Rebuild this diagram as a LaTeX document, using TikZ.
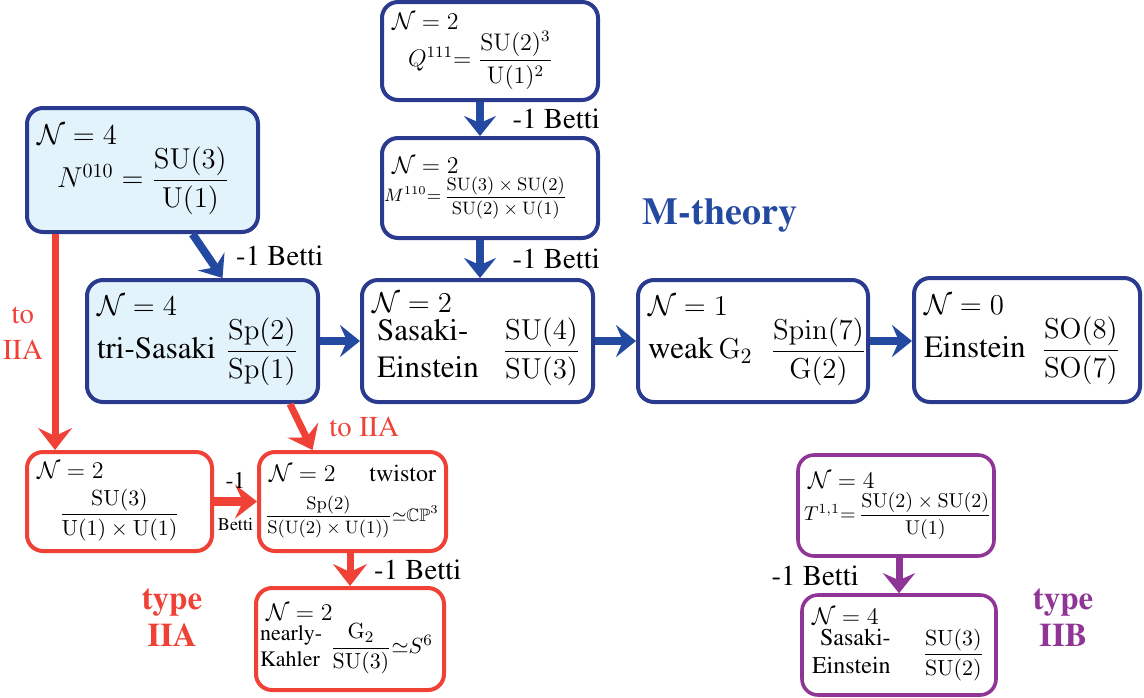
\documentclass[tikz,border=0pt]{standalone}
\usepackage{amsmath,amssymb}
\usepackage[T1]{fontenc}
\renewcommand{\rmdefault}{ptm}
\usetikzlibrary{arrows.meta,positioning,calc}

\definecolor{mblue}{HTML}{293A8F}
\definecolor{ablue}{HTML}{2449A0}
\definecolor{lblue}{HTML}{E3F3FB}
\definecolor{tred}{HTML}{EF4136}
\definecolor{tpurple}{HTML}{8E3596}

\newcommand{\NN}[1]{$\mathcal{N}=#1$}
\newcommand{\bigfr}[2]{{\fontsize{13.5}{16}\selectfont$\dfrac{#1}{#2}$}}

\begin{document}
\begin{tikzpicture}[
    x=0.5pt, y=-0.5pt,
    geom/.style={rectangle, rounded corners=8pt, line width=2pt, align=left, inner xsep=5pt, inner ysep=0pt},
    mbox/.style={geom, draw=mblue, font=\fontsize{15.5}{18.5}\selectfont},
    mfill/.style={mbox, fill=lblue},
    abox/.style={geom, draw=tred, font=\large},
    bbox/.style={geom, draw=tpurple, line width=1.8pt, font=\large},
    barr/.style={-{Stealth[length=10pt, width=16pt, inset=3.5pt]}, line width=4pt, ablue},
    aarr/.style={-{Stealth[length=11pt, width=17pt, inset=4pt]}, line width=3.5pt, tred},
    parr/.style={-{Stealth[length=10pt, width=16pt, inset=3.5pt]}, line width=3.5pt, tpurple},
    lab/.style={font=\Large, text=black},
    alab/.style={font=\Large, text=tred},
    title/.style={font=\bfseries\fontsize{19}{22}\selectfont},
    typ/.style={font=\bfseries\fontsize{16.5}{18.5}\selectfont, align=center}
]
    \useasboundingbox (0,0) rectangle (1144,697);

    \node[mbox, text width=98pt, minimum height=49pt, font=\large] (q) at (490,51)
        {\NN{2}\\\hspace*{8pt}$Q^{111}{=}\;\dfrac{\mathrm{SU}(2)^3}{\mathrm{U}(1)^2}$};
    \node[mbox, text width=98pt, minimum height=50pt, font=\large] (m) at (490,188)
        {\NN{2}\\\hspace*{-4pt}\mbox{\small$M^{110}{=}\,\dfrac{\mathrm{SU}(3)\times\mathrm{SU}(2)}{\mathrm{SU}(2)\times\mathrm{U}(1)}$}};
    \node[mfill, text width=105.5pt, minimum height=62pt] (n) at (142.5,170)
        {\NN{4}\\\hspace*{10pt}\mbox{\fontsize{14}{17}\selectfont$N^{010}=\dfrac{\mathrm{SU}(3)}{\mathrm{U}(1)}$}};
    \node[mfill, text width=105.5pt, minimum height=61pt] (tri) at (202.5,341)
        {\NN{4}\\\mbox{tri-Sasaki\hspace{5pt}\bigfr{\mathrm{Sp}(2)}{\mathrm{Sp}(1)}}};
    \node[mbox, text width=105.5pt, minimum height=61pt] (se) at (477.5,341)
        {\NN{2}\\\mbox{\,\begin{tabular}{@{}l@{}}Sasaki-\\Einstein\end{tabular}\hspace{12pt}\bigfr{\mathrm{SU}(4)}{\mathrm{SU}(3)}}};
    \node[mbox, text width=105pt, minimum height=61pt] (wg) at (753,341)
        {\NN{1}\\\mbox{weak\,$\mathrm{G}_2$\hspace{9pt}\bigfr{\mathrm{Spin}(7)}{\mathrm{G}(2)}}};
    \node[mbox, text width=103pt, minimum height=62pt] (ein) at (1027,340)
        {\NN{0}\\\mbox{Einstein\hspace{8pt}\bigfr{\mathrm{SO}(8)}{\mathrm{SO}(7)}}};

    \node[abox, text width=82.5pt, minimum height=49.5pt] (ra) at (119.5,501.5)
        {\NN{2}\\[4pt]\hspace*{\fill}{\fontsize{11}{13}\selectfont$\dfrac{\mathrm{SU}(3)}{\mathrm{U}(1)\times\mathrm{U}(1)}$}\hspace*{\fill}\null};
    \node[abox, text width=83.5pt, minimum height=49.5pt] (tw) at (352.5,501.5)
        {\NN{2}\hspace*{\fill}twistor\\[6pt]\hspace*{-2pt}\mbox{\small$\dfrac{\mathrm{Sp}(2)}{\mathrm{S}(\mathrm{U}(2)\times\mathrm{U}(1))}{\simeq}\mathbb{CP}^3$}};
    \node[abox, text width=84pt, minimum height=51pt] (nk) at (350,639)
        {\NN{2}\\\hspace*{-3pt}\mbox{\fontsize{11}{13}\selectfont\begin{tabular}{@{}l@{}}nearly-\\Kahler\end{tabular}\ $\dfrac{\mathrm{G}_2}{\mathrm{SU}(3)}{\simeq}S^6$}};

    \node[bbox, text width=88pt, minimum height=50.5pt] (tt) at (896,505.5)
        {\NN{4}\\[1pt]\hspace*{-2pt}\mbox{\normalsize$T^{1,1}{=}\,\dfrac{\mathrm{SU}(2)\times\mathrm{SU}(2)}{\mathrm{U}(1)}$}};
    \node[bbox, text width=87pt, minimum height=50pt] (sb) at (899,645)
        {\NN{4}\\\mbox{\begin{tabular}{@{}l@{}}\ Sasaki-\\Einstein\end{tabular}\hspace{16pt}{\fontsize{11}{13}\selectfont$\dfrac{\mathrm{SU}(3)}{\mathrm{SU}(2)}$}}};

    \node[title, text=ablue] (mth) at (720,215) {M-theory};
    \node[typ, text=tred] (tIIA) at (172,617) {type\\IIA};
    \node[typ, text=tpurple] (tIIB) at (1063,617) {type\\IIB};

    \draw[barr] ([xshift=-5pt]q.south) -- node[lab, right=11pt] (bq) {-1 Betti} ([xshift=-5pt]q.south |- m.north);
    \draw[barr] ([xshift=-5pt]m.south) -- node[lab, right=11pt] (bm) {-1 Betti} ([xshift=-5pt]m.south |- se.north);
    \draw[barr] ([xshift=25pt]n.south) -- node[lab, right=9pt] (bn) {-1 Betti} ([xshift=10pt]tri.north);
    \draw[barr] (tri) -- (se);
    \draw[barr] (se) -- (wg);
    \draw[barr] (wg.east) -- (wg.east -| ein.west);

    \draw[aarr] ([xshift=15pt]n.south west) -- node[alab, left=1pt, pos=0.46, align=center] (tn) {to\\IIA} ([xshift=15pt]ra.north west);
    \draw[aarr] ([xshift=-15pt]tri.south east) -- node[alab, right=9pt] (ttri) {to IIA} ([xshift=-20pt]tw.north);
    \draw[aarr, line width=4.5pt] (ra) -- node[above=1pt, font=\large, text=black] (r1) {-1} node[below=3pt, font=\small, text=black] (r2) {Betti} (tw);
    \draw[aarr] (tw.south -| nk.north) -- node[lab, right=7pt] (r3) {-1 Betti} (nk.north);

    \draw[parr] (tt.south -| sb.north) -- node[lab, left=15pt] (p1) {-1 Betti} (sb.north);
\end{tikzpicture}
\end{document}
